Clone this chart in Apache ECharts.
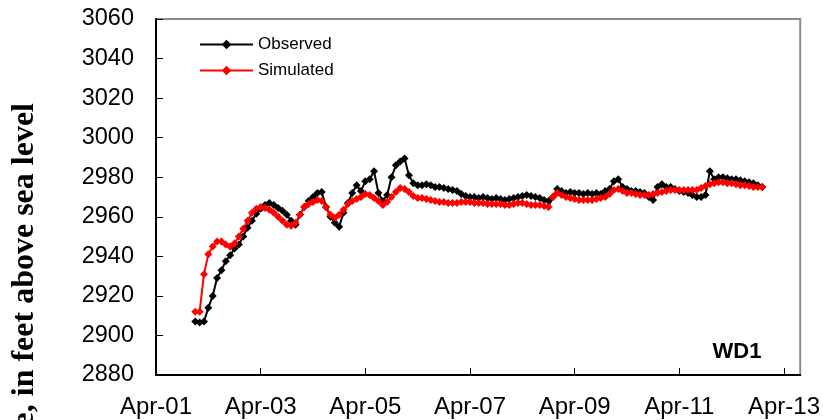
<!DOCTYPE html>
<html>
<head>
<meta charset="utf-8">
<script src="https://cdn.jsdelivr.net/npm/echarts@6/dist/echarts.min.js"></script>
<style>
html,body{margin:0;padding:0;background:#fff;}
#chart{width:823px;height:420px;}
</style>
</head>
<body>
<div id="chart"></div>
<script>
// Monthly values, first month = Jan 2002 (0.75 yr after Apr 2001)
var startOffsetYears = 0.75;
var observed = [
  2907, 2906.5, 2907, 2914, 2920, 2929, 2933, 2937.5, 2940.5, 2944,
  2946, 2950, 2954.5, 2958, 2961.5, 2964, 2966, 2967, 2966, 2964.5,
  2963, 2961, 2958, 2956, 2961, 2965, 2968, 2970, 2972, 2972.5,
  2965, 2960, 2957, 2955, 2962, 2967, 2972, 2976, 2973, 2978,
  2979, 2983, 2972, 2968, 2971, 2980, 2986, 2988, 2989.5, 2981,
  2977, 2976, 2976, 2976.5, 2976, 2975, 2975, 2974.5, 2974, 2973.5,
  2973, 2971.5, 2970.5, 2970, 2970, 2969.5, 2970, 2969.5, 2969, 2969.5,
  2969, 2968.5, 2969, 2969.5, 2970, 2970.5, 2971, 2970.5, 2970, 2969.5,
  2968.5, 2968, 2970, 2974, 2973, 2972, 2972.5, 2972, 2972, 2971.5,
  2972, 2971.5, 2972, 2971.5, 2973, 2974, 2978, 2979, 2975, 2974,
  2973, 2973, 2972.5, 2972, 2970, 2968.5, 2975, 2976.5, 2975, 2975,
  2974, 2973, 2972.5, 2972, 2971, 2970, 2970, 2971, 2983, 2979,
  2980, 2980, 2979.5, 2979, 2979, 2978.5, 2978, 2977.5, 2977, 2976,
  2975
];
var simulated = [
  2912, 2912, 2931, 2941, 2945, 2947.5, 2947.5, 2946, 2945, 2946.5,
  2950, 2954, 2958, 2962, 2964, 2965, 2964.5, 2963.5, 2962, 2960,
  2958, 2956, 2955.5, 2957, 2961, 2965, 2966.5, 2967.5, 2968.5, 2968,
  2965, 2961, 2959.5, 2961, 2963.5, 2966.5, 2968, 2969, 2970, 2971.5,
  2971, 2969.5, 2968, 2966, 2967.5, 2970, 2972.5, 2974.5, 2974, 2972.5,
  2970.5, 2969.5, 2969.5, 2969, 2968.5, 2968, 2967.5, 2967.5, 2967, 2967,
  2967, 2967.5, 2967.5, 2967.5, 2967, 2967, 2967, 2966.5, 2966.5, 2966.5,
  2966.5, 2966, 2966, 2966.5, 2967, 2967, 2966.5, 2966, 2966, 2966,
  2965.5, 2965, 2970, 2972, 2971, 2970, 2969.5, 2969, 2968.5, 2968.5,
  2968.5, 2968.5, 2969, 2969.5, 2970, 2971.5, 2973.5, 2974, 2973, 2972,
  2972, 2971.5, 2971, 2971, 2971, 2971.5, 2972, 2972.5, 2973, 2973.5,
  2973.5, 2973.5, 2973.5, 2973.5, 2973.5, 2973.5, 2974.5, 2975.5, 2976.5, 2977,
  2977.5, 2977.5, 2977, 2977, 2976.5, 2976, 2976, 2975.5, 2975, 2975,
  2975
];
var xTickLabels = ['Apr-01','Apr-03','Apr-05','Apr-07','Apr-09','Apr-11','Apr-13'];
var yTickStart = 2880, yTickEnd = 3060, yTickStep = 20;
var seriesNames = ['Observed','Simulated'];
var wellName = 'WD1';
var yAxisTitle = 'Water-level altitude, in feet above sea level';

function toPairs(vals){
  return vals.map(function(v,i){ return [startOffsetYears + i/12, v]; });
}

var chart = echarts.init(document.getElementById('chart'));
chart.setOption({
  animation: false,
  backgroundColor: '#fff',
  grid: {left:156, top:19, right:20, bottom:45, show:true, borderColor:'#8c8c8c', borderWidth:2, backgroundColor:'transparent'},
  legend: {
    data: seriesNames, orient:'vertical', left:194, top:31,
    itemWidth:53, itemHeight:12, itemGap:9,
    textStyle:{fontFamily:'Liberation Sans', fontSize:17, color:'#000'}
  },
  xAxis: {
    type:'value', min:0, max:12.31, interval:2,
    axisLine:{show:true, lineStyle:{color:'#000', width:2}},
    axisTick:{show:true, inside:true, length:7, lineStyle:{color:'#000', width:1}},
    splitLine:{show:false},
    axisLabel:{
      fontFamily:'Liberation Sans', fontSize:24, color:'#000', margin:20,
      showMaxLabel:false,
      formatter:function(v){
        var k = Math.round(v/2);
        return Math.abs(v - k*2) < 1e-6 ? (xTickLabels[k] || '') : '';
      }
    }
  },
  yAxis: {
    type:'value', min:yTickStart, max:yTickEnd, interval:yTickStep,
    axisLine:{show:true, lineStyle:{color:'#000', width:2}},
    axisTick:{show:true, inside:true, length:7, lineStyle:{color:'#000', width:1}},
    splitLine:{show:false},
    axisLabel:{fontFamily:'Liberation Sans', fontSize:23.5, color:'#000', margin:22,
      formatter:function(v){ return String(v); }}
  },
  series: [
    {name:seriesNames[0], type:'line', data:toPairs(observed), symbol:'diamond', symbolSize:8,
     itemStyle:{color:'#000'}, lineStyle:{color:'#000', width:2}},
    {name:seriesNames[1], type:'line', data:toPairs(simulated), symbol:'diamond', symbolSize:8,
     itemStyle:{color:'#ff0000'}, lineStyle:{color:'#ff0000', width:2}}
  ],
  graphic: [
    {type:'text', x:25, y:103, rotation:Math.PI/2,
     style:{text:yAxisTitle, fill:'#000', font:'bold 32px "Liberation Serif"', textAlign:'right', textVerticalAlign:'middle'}},
    {type:'text', x:737, y:352,
     style:{text:wellName, fill:'#000', font:'bold 22px "Liberation Sans"', textAlign:'center', textVerticalAlign:'middle'}}
  ]
});
</script>
</body>
</html>
